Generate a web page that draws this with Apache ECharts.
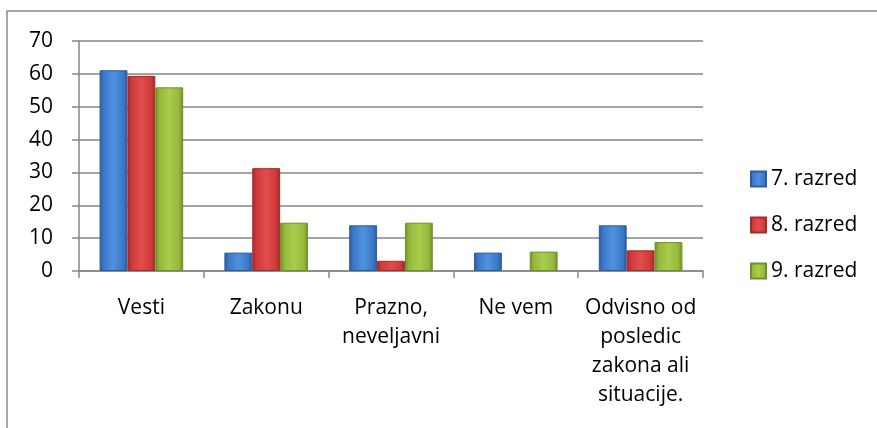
<!DOCTYPE html>
<html>
<head>
<meta charset="UTF-8">
<title>razredi</title>
<script src="https://cdn.jsdelivr.net/npm/echarts@6/dist/echarts.min.js"></script>
<style>
  * { margin: 0; padding: 0; }
  html, body { background: #fff; }
  #main { width: 877px; height: 428px; }
</style>
</head>
<body>
<div id="main"></div>
<script>
var categories = ['Vesti', 'Zakonu', 'Prazno,\nneveljavni', 'Ne vem', 'Odvisno od\nposledic\nzakona ali\nsituacije.'];
var razred7 = [61.1, 5.6, 13.9, 5.6, 13.9];
var razred8 = [59.4, 31.3, 3.1, 0, 6.3];
var razred9 = [55.9, 14.7, 14.7, 5.9, 8.8];
var yTicks = [0, 10, 20, 30, 40, 50, 60, 70];

var font = '"Open Sans", Lato, sans-serif';

function barFill(light, mid, dark) {
  return new echarts.graphic.LinearGradient(0, 0, 1, 0, [
    { offset: 0, color: dark },
    { offset: 0.15, color: mid },
    { offset: 0.5, color: light },
    { offset: 0.85, color: mid },
    { offset: 1, color: dark }
  ]);
}

// a zero bar is not drawn in the original
function noZero(arr) {
  return arr.map(function (v) { return v === 0 ? '-' : v; });
}

var myChart = echarts.init(document.getElementById('main'));

var option = {
  backgroundColor: '#fff',
  animation: false,
  graphic: [{
    type: 'rect',
    shape: { x: 7, y: 11, width: 900, height: 500 },
    style: { fill: 'none', stroke: '#8c8c8c', lineWidth: 1.5 }
  }],
  grid: { left: 79, right: 174, top: 41, bottom: 157 },
  legend: {
    orient: 'vertical',
    left: 745,
    top: 162,
    itemWidth: 15,
    itemHeight: 15,
    itemGap: 22,
    icon: 'rect',
    textStyle: { fontFamily: font, fontSize: 21, color: '#000', lineHeight: 24 },
    data: ['7. razred', '8. razred', '9. razred']
  },
  xAxis: {
    type: 'category',
    data: categories,
    axisLine: { lineStyle: { color: '#868686', width: 1.5 } },
    axisTick: { show: true, length: 7, lineStyle: { color: '#868686', width: 1.5 } },
    axisLabel: {
      interval: 0,
      margin: 23,
      color: '#000',
      fontFamily: font,
      fontSize: 21,
      lineHeight: 29,
      align: 'center'
    }
  },
  yAxis: {
    type: 'value',
    min: yTicks[0],
    max: yTicks[yTicks.length - 1],
    interval: 10,
    axisLine: { show: true, lineStyle: { color: '#868686', width: 1.5 } },
    axisTick: { show: true, length: 7, lineStyle: { color: '#868686', width: 1.5 } },
    splitLine: { lineStyle: { color: '#868686', width: 1.5 } },
    axisLabel: {
      margin: 26,
      color: '#000',
      fontFamily: font,
      fontSize: 21
    }
  },
  series: [{
    name: '7. razred',
    type: 'bar',
    data: noZero(razred7),
    barGap: '0%',
    barCategoryGap: '33%',
    itemStyle: { color: barFill('#4f92e0', '#3b78c8', '#2b5a9a'), borderColor: '#2c5d9e', borderWidth: 1 }
  }, {
    name: '8. razred',
    type: 'bar',
    data: noZero(razred8),
    barGap: '0%',
    barCategoryGap: '33%',
    itemStyle: { color: barFill('#e24c4c', '#cf3a3a', '#a02828'), borderColor: '#a52a2a', borderWidth: 1 }
  }, {
    name: '9. razred',
    type: 'bar',
    data: noZero(razred9),
    barGap: '0%',
    barCategoryGap: '33%',
    itemStyle: { color: barFill('#abcc4c', '#94b93b', '#6e8c27'), borderColor: '#71902a', borderWidth: 1 }
  }]
};

myChart.setOption(option);
</script>
</body>
</html>
